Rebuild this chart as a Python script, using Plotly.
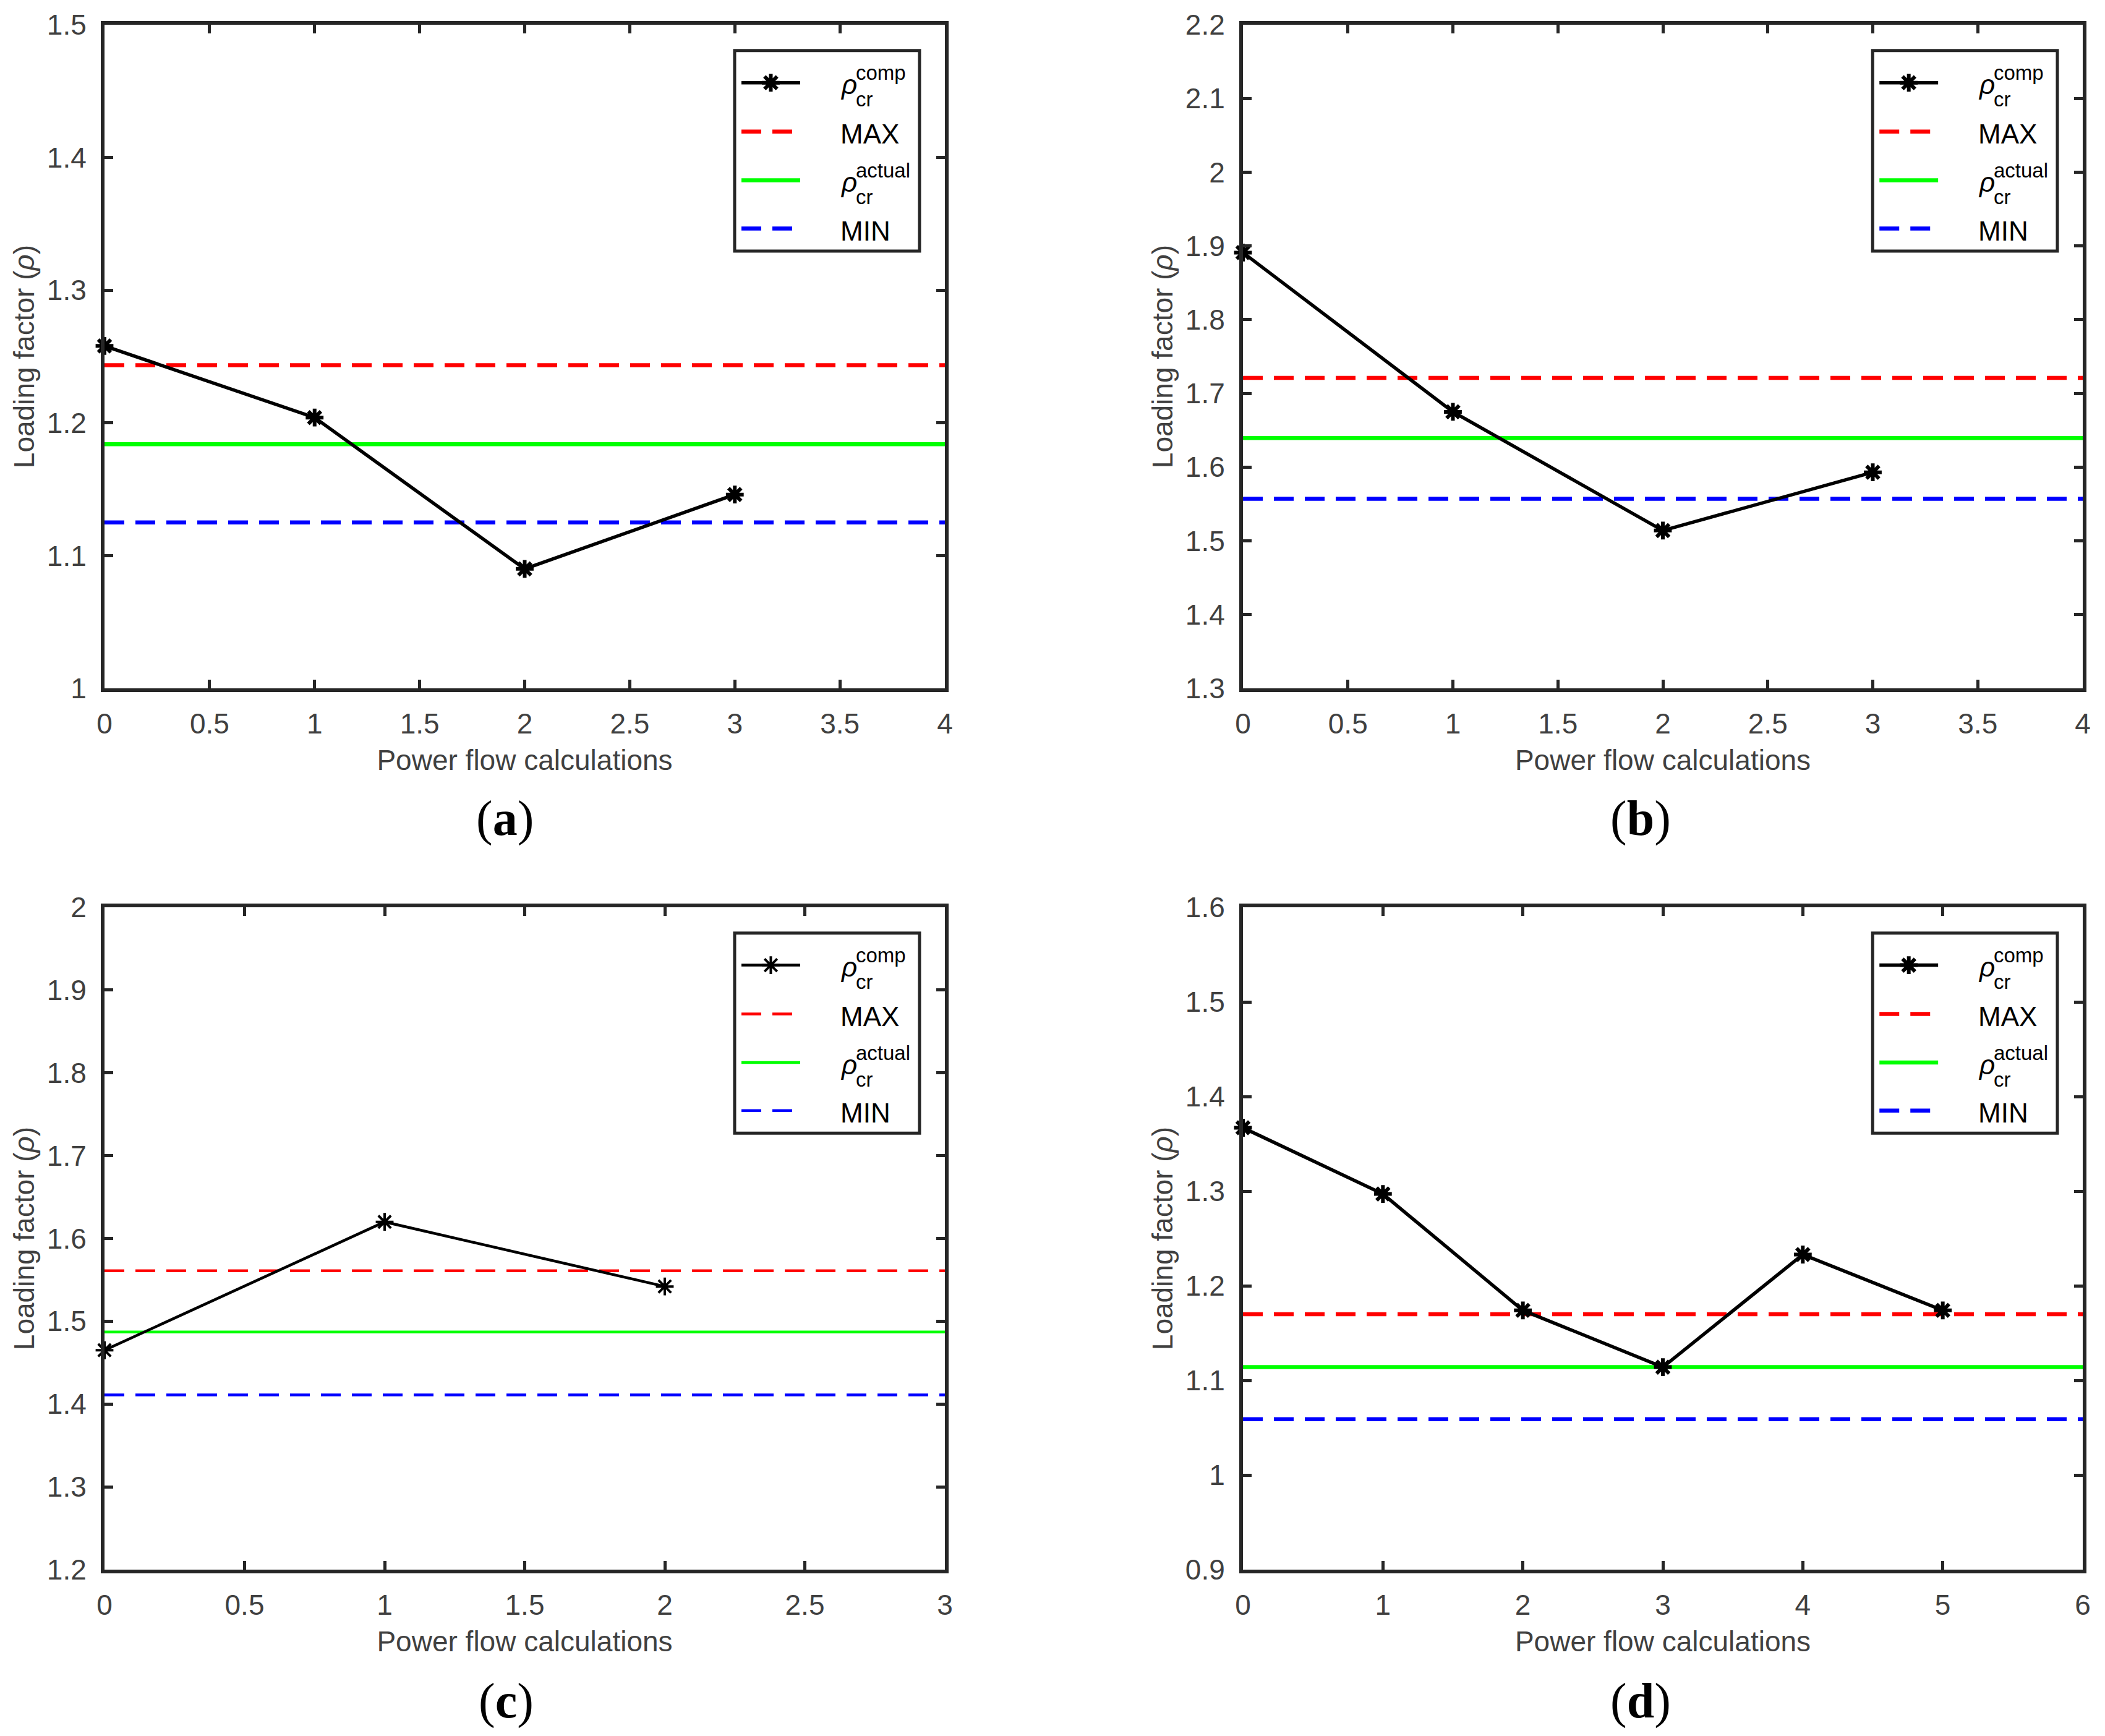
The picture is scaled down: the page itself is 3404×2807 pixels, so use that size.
import plotly.graph_objects as go

# values
steps_a = [0, 1, 2, 3]
rho_comp_a = [1.258, 1.204, 1.090, 1.146]
steps_b = [0, 1, 2, 3]
rho_comp_b = [1.891, 1.675, 1.514, 1.593]
steps_c = [0, 1, 2]
rho_comp_c = [1.465, 1.620, 1.542]
steps_d = [0, 1, 2, 3, 4, 5]
rho_comp_d = [1.367, 1.297, 1.174, 1.114, 1.233, 1.174]

rho_max = [1.2435, 1.721, 1.561, 1.170]
rho_actual = [1.184, 1.6395, 1.487, 1.114]
rho_min = [1.125, 1.557, 1.411, 1.059]

x_ranges = [[0, 4], [0, 4], [0, 3], [0, 6]]
x_dticks = [0.5, 0.5, 0.5, 1]
y_ranges = [[1.0, 1.5], [1.3, 2.2], [1.2, 2.0], [0.9, 1.6]]
panel_labels = ["a", "b", "c", "d"]

W, H = 3404, 2807
AX_COLOR = "#262626"
TXT_COLOR = "#404040"
FONT = "Liberation Sans"

# pixel boxes of the axes
col_px = [(169, 1528), (2010, 3368)]
row_px = [(40, 1113), (1467, 2538)]
label_px = [(816, 1323), (2653, 1323), (818, 2750), (2653, 2750)]

# legend geometry as fractions of the axes domain
LEG_BOX = (0.7498, 0.9698, 0.659, 0.961)
LEG_SAMPLE = (0.7579, 0.8278)
LEG_TEXT_X = 0.874
LEG_SCRIPT_X = 0.8926
LEG_ROWS = [0.9126, 0.839, 0.7656, 0.693]

DASH = "32px,18px"

fig = go.Figure()

series = [
    (steps_a, rho_comp_a),
    (steps_b, rho_comp_b),
    (steps_c, rho_comp_c),
    (steps_d, rho_comp_d),
]

for i, (xs, ys) in enumerate(series):
    n = "" if i == 0 else str(i + 1)
    xa, ya = "x" + n, "y" + n
    x0, x1 = x_ranges[i]
    y0, y1 = y_ranges[i]
    thin = (i == 2)
    lw_ref = 4.5 if thin else 6.5
    lw_comp = 4.5 if thin else 5.5
    mk_w = 4 if thin else 6
    marker = dict(symbol="asterisk-open", size=24, color="black",
                  line=dict(width=mk_w, color="black"))

    ref_lines = [
        (rho_max[i], "#ff0000", DASH),
        (rho_actual[i], "#00ff00", "solid"),
        (rho_min[i], "#0000ff", DASH),
    ]
    for val, col, dash in ref_lines:
        fig.add_trace(go.Scatter(
            x=[x0, x1], y=[val, val], mode="lines",
            line=dict(color=col, width=lw_ref, dash=dash),
            xaxis=xa, yaxis=ya, showlegend=False, hoverinfo="skip"))

    fig.add_trace(go.Scatter(
        x=xs, y=ys, mode="lines+markers",
        line=dict(color="black", width=lw_comp), marker=marker,
        cliponaxis=False, xaxis=xa, yaxis=ya, showlegend=False))

    # hand made legend (MATLAB style, stacked super/subscripts)
    def fx(f):
        return x0 + f * (x1 - x0)

    def fy(f):
        return y0 + f * (y1 - y0)

    sx = [fx(LEG_SAMPLE[0]), fx(LEG_SAMPLE[1])]
    samples = [
        ("black", "solid", lw_comp),
        ("#ff0000", DASH, lw_ref),
        ("#00ff00", "solid", lw_ref),
        ("#0000ff", DASH, lw_ref),
    ]
    for r, (col, dash, lw) in enumerate(samples):
        fig.add_trace(go.Scatter(
            x=sx, y=[fy(LEG_ROWS[r])] * 2, mode="lines",
            line=dict(color=col, width=lw, dash=dash),
            xaxis=xa, yaxis=ya, showlegend=False, hoverinfo="skip"))
    fig.add_trace(go.Scatter(
        x=[(sx[0] + sx[1]) / 2], y=[fy(LEG_ROWS[0])], mode="markers",
        marker=marker, xaxis=xa, yaxis=ya, showlegend=False, hoverinfo="skip"))

    fig.add_shape(type="rect", xref=xa + " domain", yref=ya + " domain",
                  x0=LEG_BOX[0], x1=LEG_BOX[1], y0=LEG_BOX[2], y1=LEG_BOX[3],
                  line=dict(color=AX_COLOR, width=5), fillcolor="white",
                  layer="below")

    ann = dict(xref=xa + " domain", yref=ya + " domain", showarrow=False,
               xanchor="left", yanchor="middle")
    for r, sup in [(0, "comp"), (2, "actual")]:
        fig.add_annotation(x=LEG_TEXT_X, y=LEG_ROWS[r], text="<i>ρ</i>",
                           font=dict(family=FONT, size=44, color="black"),
                           yshift=-3, **ann)
        fig.add_annotation(x=LEG_SCRIPT_X, y=LEG_ROWS[r], text=sup,
                           font=dict(family=FONT, size=33, color="black"),
                           yshift=16, **ann)
        fig.add_annotation(x=LEG_SCRIPT_X, y=LEG_ROWS[r], text="cr",
                           font=dict(family=FONT, size=33, color="black"),
                           yshift=-27, **ann)
    for r, txt in [(1, "MAX"), (3, "MIN")]:
        fig.add_annotation(x=LEG_TEXT_X, y=LEG_ROWS[r], text=txt,
                           font=dict(family=FONT, size=44, color="black"),
                           yshift=-4, **ann)

    # panel letter
    lx, ly = label_px[i]
    fig.add_annotation(x=lx / W, y=1 - ly / H, xref="paper", yref="paper",
                       text="(<b>" + panel_labels[i] + "</b>)", showarrow=False,
                       xanchor="center", yanchor="middle",
                       font=dict(family="Liberation Serif", size=80, color="black"))

    cx = col_px[i % 2]
    ry = row_px[i // 2]
    common = dict(showline=True, linecolor=AX_COLOR, linewidth=6, mirror="allticks",
                  ticks="inside", ticklen=14, tickwidth=5, tickcolor=AX_COLOR,
                  showgrid=False, zeroline=False, automargin=False,
                  tickfont=dict(family=FONT, size=46, color=TXT_COLOR))
    fig.layout["xaxis" + n] = dict(
        domain=[cx[0] / W, cx[1] / W], range=x_ranges[i], dtick=x_dticks[i],
        tick0=0, anchor=ya, ticklabelstandoff=12,
        title=dict(text="Power flow calculations", standoff=20,
                   font=dict(family=FONT, size=46, color=TXT_COLOR)),
        **common)
    fig.layout["yaxis" + n] = dict(
        domain=[1 - ry[1] / H, 1 - ry[0] / H], range=y_ranges[i], dtick=0.1,
        tick0=0, anchor=xa, ticklabelstandoff=14,
        title=dict(text="Loading factor (<i>ρ</i>)", standoff=8,
                   font=dict(family=FONT, size=46, color=TXT_COLOR)),
        **common)

fig.update_layout(
    width=W, height=H,
    margin=dict(l=0, r=0, t=0, b=0),
    paper_bgcolor="white", plot_bgcolor="white",
    showlegend=False,
)

# drop the default page margin so the figure sits at the window origin
fig.write_html("out.html", config={"displayModeBar": False},
               post_script="document.body.style.margin='0';"
                           "document.body.style.overflow='hidden';")
